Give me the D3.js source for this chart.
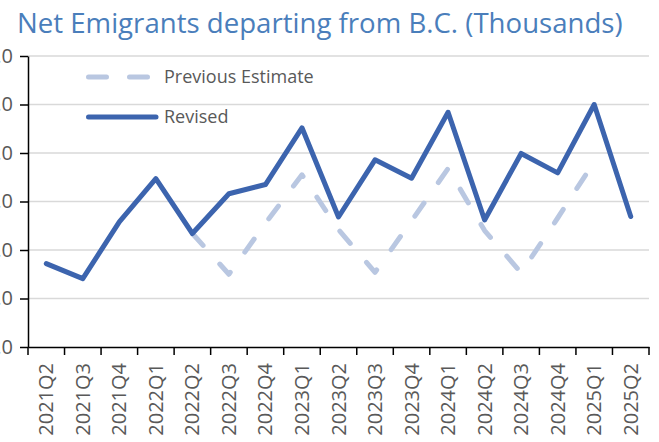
<!DOCTYPE html>
<html><head><meta charset="utf-8">
<script src="https://cdn.jsdelivr.net/npm/d3@7"></script>
<style>
html,body{margin:0;padding:0;background:#fff;overflow:hidden;}
text{font-family:"Open Sans","Noto Sans",sans-serif;}
</style></head>
<body><svg id="c" width="659" height="442"></svg>
<script>
const categories = ["2021Q2","2021Q3","2021Q4","2022Q1","2022Q2","2022Q3","2022Q4","2023Q1","2023Q2","2023Q3","2023Q4","2024Q1","2024Q2","2024Q3","2024Q4","2025Q1","2025Q2"];
const revised = [1.72,1.41,2.58,3.47,2.34,3.16,3.35,4.52,2.68,3.86,3.48,4.84,2.62,3.99,3.59,5.0,2.69];
const previous = [null,null,null,null,2.34,1.5,2.55,3.55,2.42,1.54,2.6,3.68,2.4,1.53,2.66,3.82,null];
const yTicks = [0,1,2,3,4,5,6];
const title = "Net Emigrants departing from B.C. (Thousands)";
const legendLabels = ["Previous Estimate","Revised"];

const svg = d3.select("#c");
const x = d3.scaleBand().domain(categories).range([28,649]).padding(0);
const y = d3.scaleLinear().domain([0,6]).range([347,56]);
const cx = d => x(d) + x.bandwidth()/2;
const colRev = "#3C64AE", colPrev = "#B9C7E1", grey = "#595959";

// gridlines
svg.append("g").selectAll("line").data(yTicks.filter(t=>t>0)).join("line")
  .attr("x1",28).attr("x2",649).attr("y1",d=>y(d)).attr("y2",d=>y(d))
  .attr("stroke","#d9d9d9").attr("stroke-width",1.5);

// y axis
const ya = svg.append("g").attr("transform","translate(28,0)")
  .call(d3.axisLeft(y).tickValues(yTicks).tickSize(8).tickPadding(7).tickSizeOuter(0));
ya.select(".domain").attr("stroke","#000").attr("stroke-width",1.5);
ya.selectAll(".tick line").attr("stroke","#000").attr("stroke-width",1.5);
ya.selectAll(".tick text").attr("fill",grey).style("font-size","20px").attr("font-family",null);

// x axis
const xa = svg.append("g").attr("transform","translate(0,347)")
  .call(d3.axisBottom(x).tickSize(0).tickSizeOuter(0));
xa.select(".domain").attr("stroke","#000").attr("stroke-width",1.5);
xa.selectAll(".tick text").attr("fill",grey).style("font-size","20px").attr("font-family",null)
  .attr("transform","rotate(-90)").attr("text-anchor","end")
  .attr("x",-16).attr("y",0).attr("dy","0.35em");
const bounds = categories.map(c=>x(c)).concat([x.range()[1]]);
svg.append("g").selectAll("line").data(bounds).join("line")
  .attr("x1",d=>d).attr("x2",d=>d).attr("y1",347).attr("y2",355)
  .attr("stroke","#000").attr("stroke-width",1.5);

// lines
const line = d3.line().defined(d=>d.v!=null).x(d=>cx(d.c)).y(d=>y(d.v));
svg.append("path").datum(categories.map((c,i)=>({c,v:previous[i]})))
  .attr("d",line).attr("fill","none").attr("stroke",colPrev).attr("stroke-width",5)
  .attr("stroke-dasharray","16,25").attr("stroke-linecap","round").attr("stroke-linejoin","round");
svg.append("path").datum(categories.map((c,i)=>({c,v:revised[i]})))
  .attr("d",line).attr("fill","none").attr("stroke",colRev).attr("stroke-width",5)
  .attr("stroke-linecap","round").attr("stroke-linejoin","round");

// legend
const lg = svg.append("g");
lg.append("line").attr("x1",88.5).attr("x2",148).attr("y1",77).attr("y2",77)
  .attr("stroke",colPrev).attr("stroke-width",5).attr("stroke-linecap","round").attr("stroke-dasharray","18,23");
lg.append("line").attr("x1",88.5).attr("x2",156).attr("y1",117).attr("y2",117)
  .attr("stroke",colRev).attr("stroke-width",5).attr("stroke-linecap","round");
lg.selectAll("text").data(legendLabels).join("text")
  .attr("x",164).attr("y",(d,i)=>i===0?77:117).attr("dy","0.35em")
  .attr("fill",grey).style("font-size","18px").text(d=>d);

// title
const t = svg.append("text").attr("x",17).attr("y",33).attr("fill","#4A7EBB")
  .style("font-size","25px").text(title);
const w = t.node().getComputedTextLength();
t.style("font-size",(25*606/w)+"px");
</script></body></html>
